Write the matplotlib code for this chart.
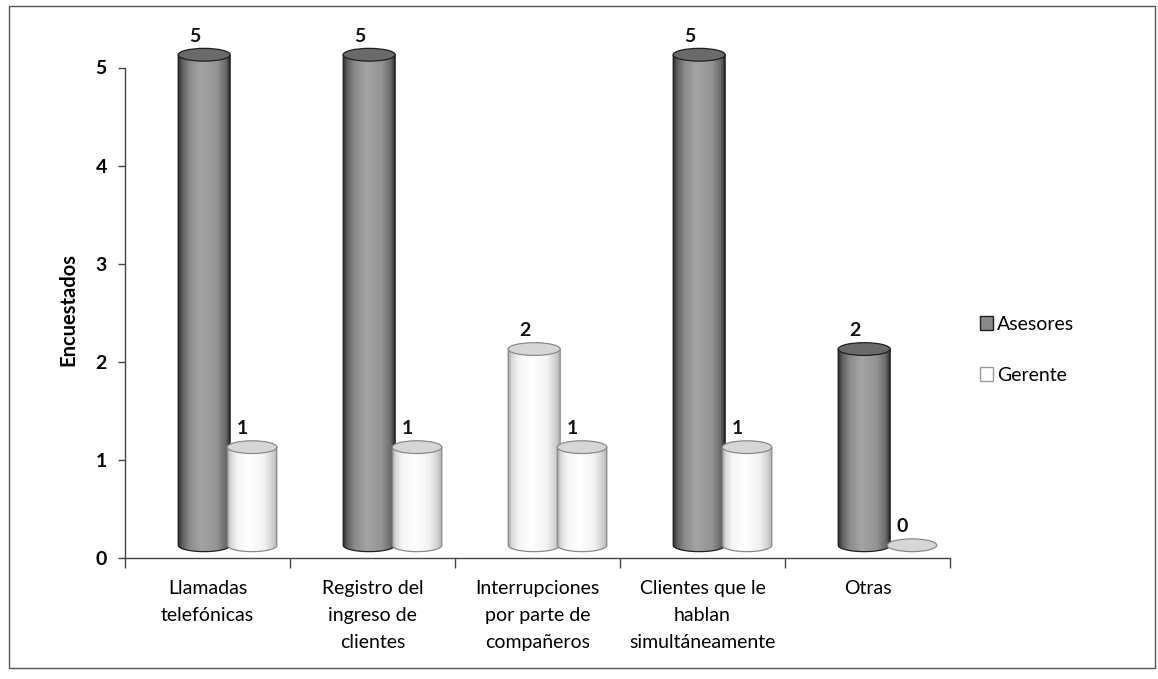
import numpy as np
import matplotlib
matplotlib.use("Agg")
import matplotlib.pyplot as plt
from matplotlib.patches import Ellipse, Polygon, Rectangle
from matplotlib.colors import LinearSegmentedColormap

categories = [
    "Llamadas\ntelefónicas",
    "Registro del\ningreso de\nclientes",
    "Interrupciones\npor parte de\ncompañeros",
    "Clientes que le\nhablan\nsimultáneamente",
    "Otras",
]
asesores = [5, 5, 2, 5, 2]
gerente = [1, 1, 1, 1, 0]
series_names = ["Asesores", "Gerente"]
y_ticks = [0, 1, 2, 3, 4, 5]

FONT = "Lato"

# Shading for the two cylinder tones
dark_cmap = LinearSegmentedColormap.from_list(
    "dark_cyl",
    [(0.0, "#2a2a2a"), (0.08, "#5e5e5e"), (0.22, "#8a8a8a"), (0.45, "#a4a4a4"),
     (0.75, "#939393"), (0.92, "#6a6a6a"), (1.0, "#2c2c2c")])
light_cmap = LinearSegmentedColormap.from_list(
    "light_cyl",
    [(0.0, "#9a9a9a"), (0.07, "#d8d8d8"), (0.2, "#f4f4f4"), (0.45, "#ffffff"),
     (0.75, "#f2f2f2"), (0.92, "#d0d0d0"), (1.0, "#b0b0b0")])
tone_style = {
    "dark": dict(cmap=dark_cmap, top="#6a6a6a", edge="#1e1e1e"),
    "light": dict(cmap=light_cmap, top="#d6d6d6", edge="#8a8a8a"),
}
asesores_tone = ["dark", "dark", "light", "dark", "dark"]

W, H = 1158, 679
fig = plt.figure(figsize=(W / 100, H / 100), dpi=100)
fig.patch.set_facecolor("white")

px_per_unit = 98.1
ax = fig.add_axes([125 / W, 1 - 558 / H, 825 / W, (558 - 18) / H])
ax.set_xlim(-0.5, 4.5)
ax.set_ylim(0, 540 / px_per_unit)

base = 0.13      # floor lift of the cylinders
eh = 0.065       # half height of the end ellipses (data units)
grad = np.linspace(0, 1, 256).reshape(1, -1)


def cylinder(xc, width, value, tone, z):
    st = tone_style[tone]
    x0, x1 = xc - width / 2, xc + width / 2
    top = base + value
    if value > 0:
        t = np.linspace(np.pi, 2 * np.pi, 60)
        arc = np.column_stack([xc + width / 2 * np.cos(t), base + eh * np.sin(t)])
        pts = np.vstack([[x0, top], arc, [x1, top]])
        body = Polygon(pts, closed=True, facecolor="none", edgecolor=st["edge"],
                       lw=0.9, zorder=z + 0.2)
        ax.add_patch(body)
        im = ax.imshow(grad, cmap=st["cmap"], aspect="auto",
                       extent=[x0, x1, base - eh, top], zorder=z, interpolation="bilinear")
        im.set_clip_path(body)
    ax.add_patch(Ellipse((xc, top), width, 2 * eh, facecolor=st["top"],
                         edgecolor=st["edge"], lw=0.9, zorder=z + 0.3))


xs = np.arange(len(categories))
wa, wg = 0.315, 0.30
off_a, off_g = -0.02, 0.27

for i in xs:
    cylinder(i + off_a, wa, asesores[i], asesores_tone[i], 2)
    cylinder(i + off_g, wg, gerente[i], "light", 3)
    ax.text(i + off_a - 0.055, base + asesores[i] + 0.19, str(asesores[i]),
            ha="center", va="center", fontsize=14, family=FONT, fontweight="bold",
            color="#111111", zorder=6)
    ax.text(i + off_g - 0.06, base + gerente[i] + 0.19, str(gerente[i]),
            ha="center", va="center", fontsize=14, family=FONT, fontweight="bold",
            color="#111111", zorder=6)

ax.set_xlim(-0.5, 4.5)
ax.set_ylim(0, 540 / px_per_unit)

# Axes styling
for s in ["top", "right"]:
    ax.spines[s].set_visible(False)
ax.spines["left"].set_bounds(0, 5)
for s in ["left", "bottom"]:
    ax.spines[s].set_color("#444444")
    ax.spines[s].set_linewidth(1.0)

ax.set_yticks(y_ticks)
ax.set_yticklabels([str(v) for v in y_ticks], family=FONT, fontsize=14, fontweight="bold")
ax.tick_params(axis="y", length=5, width=1, color="#444444", pad=8)

ax.set_xticks(np.arange(-0.5, 4.6, 1.0))
ax.set_xticklabels([])
ax.tick_params(axis="x", which="major", length=7, width=1, color="#444444")
ax.set_xticks(xs, minor=True)
ax.set_xticklabels(categories, minor=True, family=FONT, fontsize=14,
                   linespacing=1.7, va="top")
ax.tick_params(axis="x", which="minor", length=0, pad=16)

fig.text(68 / W, 1 - 310 / H, "Encuestados", rotation=90, ha="center", va="center",
         family=FONT, fontsize=14.5, fontweight="bold")

# Legend
handles = [Rectangle((0, 0), 1, 1, facecolor="#8a8a8a", edgecolor="#1e1e1e", lw=1.0),
           Rectangle((0, 0), 1, 1, facecolor="#ffffff", edgecolor="#9a9a9a", lw=1.0)]
fig.legend(handles, series_names, loc="center left",
           bbox_to_anchor=(962 / W, 1 - 350 / H), frameon=False,
           prop=dict(family=FONT, size=14), handlelength=0.7, handleheight=0.7,
           handletextpad=0.2, labelspacing=1.75)

# Outer frame
fig.patches.append(Rectangle((9 / W, 1 - 668 / H), (1155 - 9) / W, (668 - 6) / H,
                             transform=fig.transFigure, fill=False,
                             edgecolor="#555555", lw=1.0))

fig.savefig("out.png", dpi=100, facecolor="white")
